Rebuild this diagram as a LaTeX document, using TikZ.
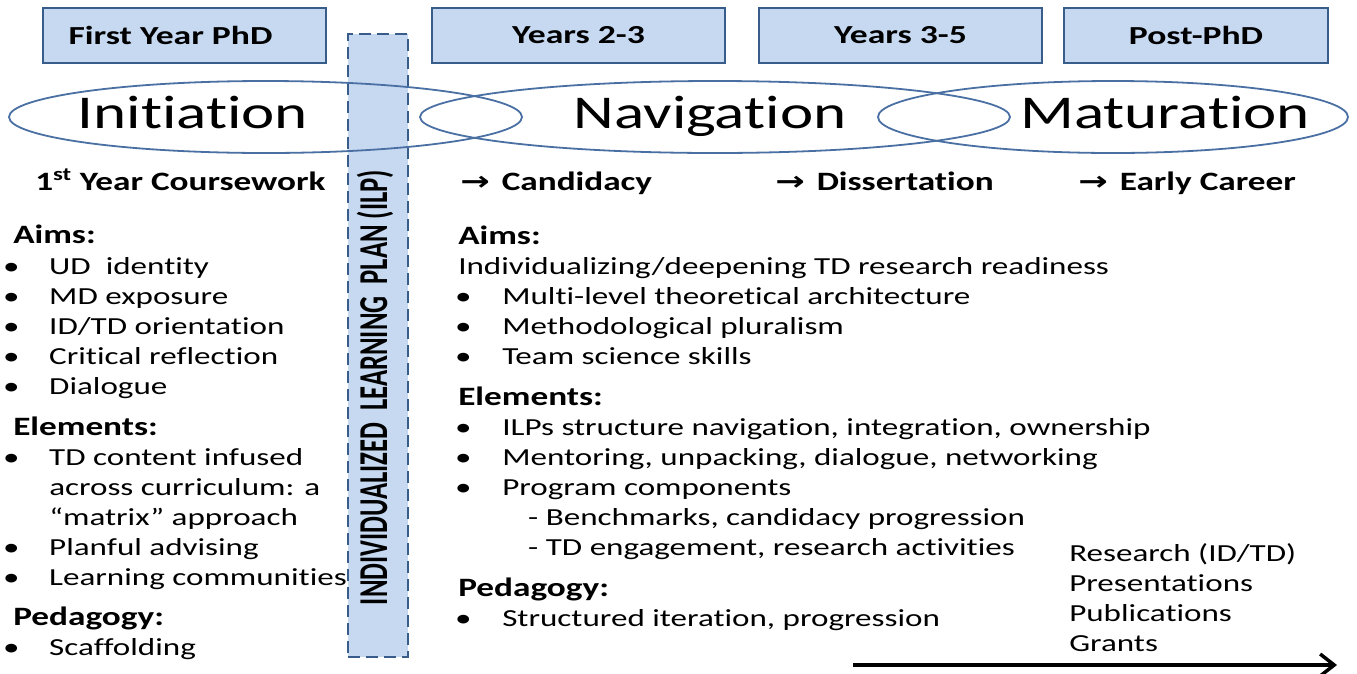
\documentclass[tikz,border=0pt]{standalone}
\usepackage{fontspec}
\setmainfont{Carlito}[Ligatures=NoCommon]
\newfontfamily\arrowfont{DejaVu Sans}
\usetikzlibrary{arrows.meta}
\usetikzlibrary{shapes.geometric}
\definecolor{boxcol}{RGB}{198,217,241}
\definecolor{edgecol}{RGB}{56,93,138}
\definecolor{ringcol}{RGB}{74,112,163}
\tikzstyle{stage}=[draw=edgecol,fill=boxcol,line width=2.2pt,minimum height=55pt,inner sep=0pt,font=\fontsize{26}{28}\selectfont\bfseries]
\tikzstyle{ilp}=[draw=edgecol,fill=boxcol,line width=2.8pt,dash pattern=on 12pt off 6pt]
\tikzset{
  phase/.style={ellipse,draw=ringcol,line width=1.8pt,inner sep=0pt},
  title/.style={font=\fontsize{47}{50}\selectfont,xscale=1.34,anchor=base,inner sep=0pt},
  head/.style={font=\fontsize{26.5}{30}\selectfont\bfseries,xscale=1.33,anchor=base west,inner sep=0pt},
  body/.style={font=\fontsize{24.5}{30}\selectfont,xscale=1.35,anchor=base west,inner sep=0pt,align=left},
  timeline/.style={line width=3.5pt,-{Straight Barb[length=14pt,width=22pt]}}
}
\newcommand\wide[1]{\scalebox{1.37}[1]{#1}}
\newcommand\dotL{\makebox[31.1pt][l]{\hspace*{-3pt}\textbullet}}
\newcommand\dotR{\makebox[30.4pt][l]{\hspace*{-4.5pt}\textbullet}}
\newcommand\goto{{\arrowfont\bfseries →}\hspace{9pt}}

\begin{document}
\begin{tikzpicture}[x=1pt,y=-1pt]
  \useasboundingbox (0,0) rectangle (1357,673);
  \def\sub{49.6pt}               % indent of the sub items
  \def\gap{31.1pt}               % indent of a wrapped line
  % lists sit on the baseline of their LAST line

  % ILP BAND
  \node[ilp,minimum width=60pt,minimum height=623pt] (ilpbox) at (378,345.5) {};
  \node[rotate=90,inner sep=0pt,font=\fontsize{41}{41}\selectfont\bfseries] (ilptext) at (375,387.5)
    {\resizebox{435pt}{\height}{INDIVIDUALIZED\ \ LEARNING\ \ PLAN (ILP)}};

  % STAGES
  \node[stage,minimum width=283pt] (first) at (184.5,35.5) {\wide{First Year PhD}\hspace*{28pt}};
  \node[stage,minimum width=293pt] (mid)   at (578.5,35.5) {\wide{Years 2-3}};
  \node[stage,minimum width=283pt] (late)  at (900.5,35.5) {\wide{Years 3-5}};
  \node[stage,minimum width=264pt] (post)  at (1196,35.5)  {\wide{Post-PhD}};

  % PHASES
  \node[phase,minimum width=513pt,minimum height=72pt] (init) at (265.5,117) {};
  \node[phase,minimum width=590pt,minimum height=72pt] (navi) at (715,117) {};
  \node[phase,minimum width=470pt,minimum height=72pt] (matu) at (1113,117) {};
  \node[title] (initT) at (193,128)  {Initiation};
  \node[title] (naviT) at (710,128)  {Navigation};
  \node[title] (matuT) at (1165,128) {Maturation};

  % MILESTONES
  \node[head] (course) at (35,190)   {1\textsuperscript{st} Year Coursework};
  \node[head] (cand)   at (460,190)  {\goto Candidacy};
  \node[head] (diss)   at (775,190)  {\goto Dissertation};
  \node[head] (career) at (1078,190) {\goto Early Career};

  % FIRST YEAR
  \node[head] (aimsL) at (13,243) {Aims:};
  \node[body] (aimsLlist) at (7,394)
    {\dotL UD\ \ identity\\ \dotL MD exposure\\ \dotL ID/TD orientation\\
     \dotL Critical reflection\\ \dotL Dialogue};
  \node[head] (elemL) at (13,435) {Elements:};
  \node[body] (elemLlist) at (7,585)
    {\dotL TD content infused\\ \hspace*{\gap}across curriculum: a\\
     \hspace*{\gap}“matrix” approach\\ \dotL Planful advising\\ \dotL Learning communities};
  \node[head] (pedL) at (13,625) {Pedagogy:};
  \node[body] (pedLlist) at (7,655) {\dotL Scaffolding};

  % LATER YEARS
  \node[head] (aimsR) at (458,244) {Aims:};
  \node[body] (readyR) at (458,274) {Individualizing/deepening TD research readiness};
  \node[body] (aimsRlist) at (461,364)
    {\dotR Multi-level theoretical architecture\\ \dotR Methodological pluralism\\
     \dotR Team science skills};
  \node[head] (elemR) at (458,405) {Elements:};
  \node[body] (elemRlist) at (461,555)
    {\dotR ILPs structure navigation, integration, ownership\\
     \dotR Mentoring, unpacking, dialogue, networking\\ \dotR Program components\\
     \hspace*{\sub}- Benchmarks, candidacy progression\\
     \hspace*{\sub}- TD engagement, research activities};
  \node[head] (pedR) at (458,596) {Pedagogy:};
  \node[body] (pedRlist) at (461,626) {\dotR Structured iteration, progression};

  % OUTPUTS
  \node[body] (outputs) at (1069,651) {Research (ID/TD)\\ Presentations\\ Publications\\ Grants};
  \coordinate (tl) at (853,665);
  \coordinate (tr) at (1337,665);
  \draw[timeline] (tl) -- (tr);
\end{tikzpicture}
\end{document}
